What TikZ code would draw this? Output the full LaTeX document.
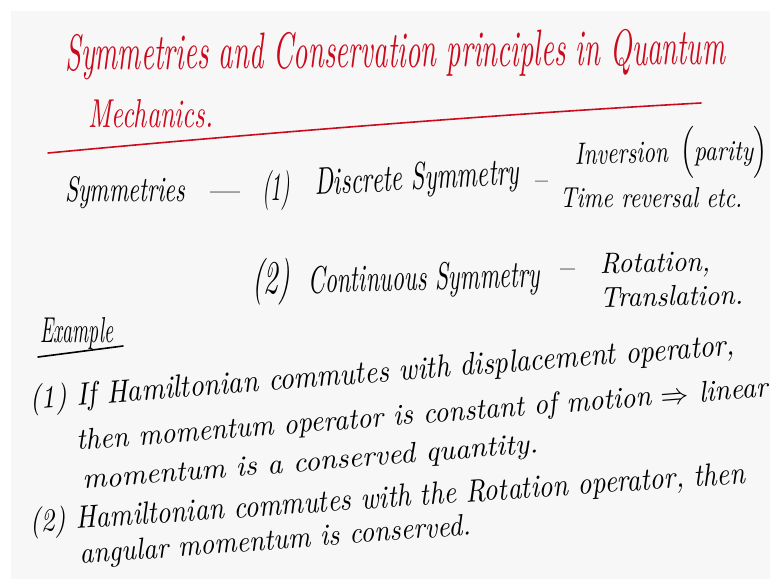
\documentclass[tikz,border=0pt]{standalone}
\usepackage{graphicx}
\definecolor{inkred}{HTML}{CC0A1E}
\definecolor{page}{HTML}{F7F7F7}
\newcommand{\fw}[3]{\resizebox{#1pt}{#2pt}{\itshape #3}}
\newcommand{\ft}[3]{\resizebox*{#1pt}{#2pt}{\itshape #3}}
\newcommand{\fd}[2]{\resizebox{#1pt}{!}{#2}}
\tikzset{
  hw/.style={anchor=base west, inner sep=0pt, text=black},
  hwred/.style={hw, text=inkred},
  pen/.style={line width=1.6pt, line cap=round},
}
\begin{document}
\begin{tikzpicture}[x=1pt,y=-1pt]
\useasboundingbox (0,0) rectangle (770,579);
\fill[white] (0,0) rectangle (770,579);
\fill[page] (11,11) rectangle (770,579);
% title
\node[hwred, rotate=0.5] (t1) at (65,70) {\fw{660}{36}{Symmetries and Conservation principles in Quantum}};
\node[hwred] (t2) at (88,127) {\fw{125}{28}{Mechanics.}};
\coordinate (ul1) at (48,153);
\coordinate (ul2) at (701,103);
\draw[pen, inkred] (ul1) .. controls (250,134) and (500,114) .. (ul2);
% symmetries
\node[hw] (s1) at (65,201) {\fw{120}{25}{Symmetries}};
\node[hw] (s2) at (210,200) {\fd{30}{---}};
\node[hw] (s3) at (262,200) {\ft{28}{40}{(1)}};
\node[hw, rotate=3] (s4) at (315,195) {\fw{205}{27}{Discrete Symmetry}};
\node[hw] (s5) at (535,188) {\fd{13}{--}};
\node[hw, rotate=2] (s6) at (575,165) {\fw{93}{21}{Inversion}};
\node[hw] (s7) at (680,160) {\ft{87}{52}{$\Bigl($parity$\Bigr)$}};
\node[hw] (s8) at (560,207) {\fw{182}{20}{Time reversal etc.}};
% continuous
\node[hw] (c1) at (252,293) {\ft{38}{47}{(2)}};
\node[hw, rotate=1.5] (c2) at (308,293) {\fw{232}{27}{Continuous Symmetry}};
\node[hw] (c3) at (560,277) {\fd{15}{--}};
\node[hw, rotate=1] (c4) at (600,273) {\fw{110}{20}{Rotation,}};
\node[hw, rotate=1] (c5) at (600,307) {\fw{143}{20}{Translation.}};
% example
\node[hw] (ex) at (40,342) {\fw{73}{25}{Example}};
\coordinate (eu1) at (38,357);
\coordinate (eu2) at (123,346);
\draw[pen] (eu1) -- (eu2);
\node[hw, rotate=4.4] (e1) at (30,409) {\fw{707}{24}{(1) If Hamiltonian commutes with displacement operator,}};
\node[hw, rotate=4.4] (e2) at (77,450) {\fw{693}{21}{then momentum operator is constant of motion $\Rightarrow$ linear}};
\node[hw, rotate=4.6] (e3) at (83,489) {\fw{457}{20}{momentum is a conserved quantity.}};
\node[hw, rotate=3.9] (e4) at (30,532) {\fw{717}{24}{(2) Hamiltonian commutes with the Rotation operator, then}};
\node[hw, rotate=4.3] (e5) at (80,564) {\fw{392}{21}{angular momentum is conserved.}};
\end{tikzpicture}
\end{document}
